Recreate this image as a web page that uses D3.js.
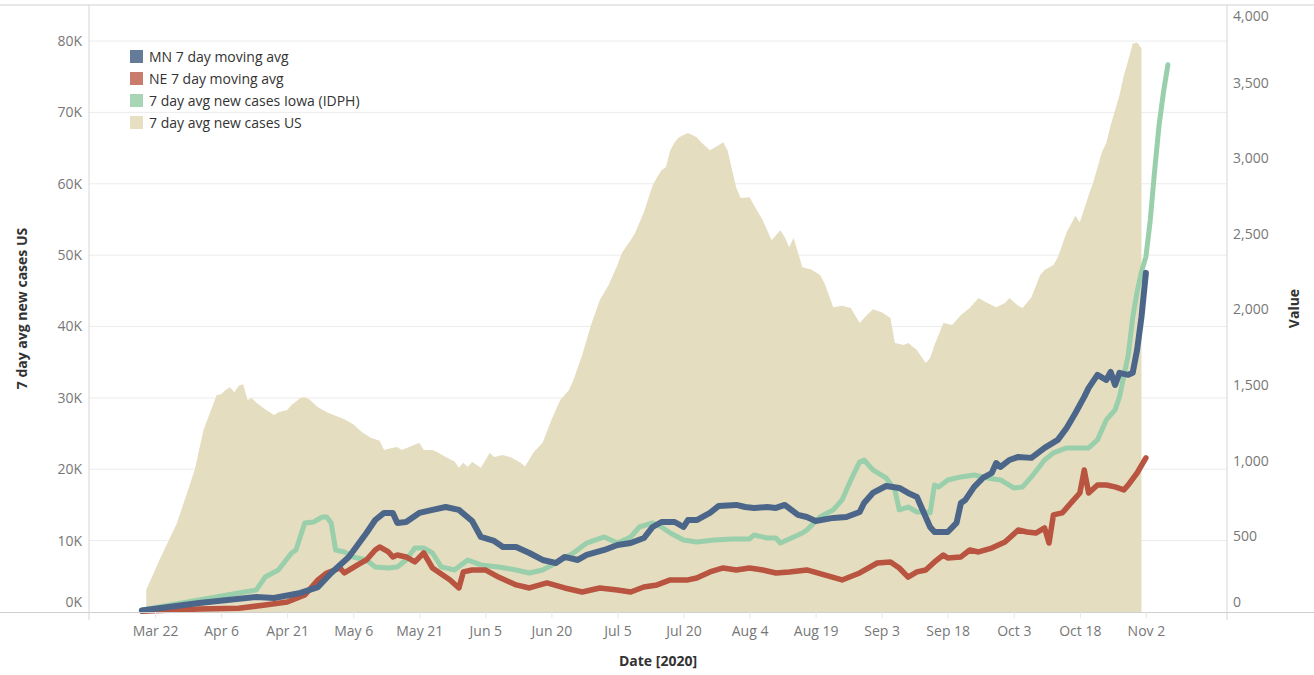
<!DOCTYPE html>
<html>
<head>
<meta charset="utf-8">
<script src="https://cdn.jsdelivr.net/npm/d3@7"></script>
<style>
  body { margin: 0; background: #fff; }
  text { font-family: "Open Sans", sans-serif; }
</style>
</head>
<body>
<script>
// US 7 day avg (left axis)
const usDates = ["03-20","03-23","03-27","03-31","04-02","04-05","04-06","04-07","04-08","04-09","04-10","04-11","04-12","04-13","04-14","04-16","04-18","04-19","04-21","04-22","04-24","04-25","04-26","04-28","04-30","05-02","05-04","05-06","05-08","05-10","05-12","05-13","05-15","05-16","05-17","05-19","05-21","05-22","05-24","05-25","05-27","05-29","05-30","05-31","06-01","06-02","06-04","06-06","06-07","06-09","06-11","06-13","06-14","06-16","06-18","06-20","06-22","06-24","06-25","06-27","06-29","07-01","07-03","07-05","07-06","07-08","07-09","07-11","07-13","07-14","07-15","07-16","07-17","07-18","07-19","07-21","07-23","07-24","07-26","07-28","07-29","07-30","08-01","08-02","08-04","08-05","08-07","08-09","08-11","08-12","08-13","08-14","08-16","08-18","08-20","08-21","08-23","08-25","08-27","08-29","08-30","09-01","09-03","09-05","09-06","09-08","09-09","09-11","09-13","09-14","09-15","09-17","09-19","09-21","09-23","09-25","09-27","09-29","10-01","10-02","10-04","10-05","10-07","10-09","10-10","10-12","10-13","10-15","10-17","10-18","10-20","10-21","10-23","10-24","10-25","10-26","10-27","10-28","10-29","10-30","10-31","11-01"];
const usValues = [3100,7300,12500,19900,25500,30400,30500,31100,31500,30800,31700,31900,29700,30000,29300,28400,27600,28000,28300,29000,30000,30100,29800,28700,28000,27500,27000,26300,25200,24400,24000,22700,23000,23100,22700,23200,23700,22700,22700,22400,21700,21100,20200,20900,20300,21000,20200,22300,21700,22000,21600,20900,20400,22400,23700,26900,29700,31100,32500,36000,40200,43700,45800,48600,50300,52100,53100,56000,59800,60900,61900,62300,64700,65800,66500,67100,66500,65800,64700,65400,65800,64700,59400,58000,58100,57000,54900,52100,53500,52500,51100,52400,48300,48000,47200,46100,42700,42900,42600,40500,41200,42400,42000,41200,37700,37400,37700,36700,34900,35600,37400,40500,40200,41600,42600,44000,43300,42700,43300,44000,42900,42600,44100,47200,47900,48600,49700,53200,55500,54600,58400,60100,64400,65700,68200,70300,72400,75200,77300,79600,79800,79000];

// MN 7 day moving avg (right axis)
const mnDates = ["03-19","04-01","04-14","04-18","04-24","04-28","05-01","05-05","05-09","05-11","05-13","05-15","05-16","05-18","05-21","05-24","05-27","05-30","06-02","06-04","06-07","06-09","06-12","06-15","06-18","06-21","06-23","06-26","06-28","07-02","07-05","07-08","07-11","07-13","07-15","07-18","07-20","07-21","07-23","07-26","07-28","08-01","08-03","08-05","08-08","08-10","08-12","08-15","08-17","08-19","08-23","08-26","08-29","08-30","09-01","09-04","09-07","09-09","09-11","09-12","09-14","09-15","09-18","09-20","09-21","09-22","09-24","09-26","09-28","09-29","09-30","10-02","10-04","10-07","10-10","10-13","10-15","10-17","10-19","10-20","10-22","10-24","10-25","10-26","10-27","10-29","10-30","10-31","11-01","11-02"];
const mnValues = [10,60,99,93,126,165,258,364,522,608,655,655,589,595,655,675,694,675,602,496,470,430,430,390,344,324,364,344,377,410,443,456,489,562,595,595,562,608,608,655,701,708,694,688,694,688,708,642,628,602,622,628,661,721,787,833,820,787,761,694,562,529,529,589,721,741,827,886,919,985,959,1005,1025,1019,1085,1138,1217,1316,1422,1482,1568,1534,1587,1501,1581,1568,1581,1733,1951,2242];

// NE 7 day moving avg (right axis)
const neDates = ["03-19","04-01","04-10","04-16","04-21","04-25","04-28","04-30","05-03","05-04","05-07","05-09","05-11","05-12","05-14","05-15","05-16","05-18","05-20","05-22","05-24","05-28","05-30","05-31","06-02","06-05","06-08","06-12","06-15","06-19","06-23","06-27","07-01","07-05","07-08","07-11","07-14","07-17","07-21","07-23","07-26","07-29","08-01","08-04","08-07","08-10","08-13","08-17","08-21","08-25","08-29","09-02","09-05","09-07","09-09","09-11","09-13","09-15","09-17","09-18","09-21","09-23","09-25","09-28","10-01","10-04","10-06","10-08","10-10","10-11","10-12","10-14","10-16","10-18","10-19","10-20","10-22","10-24","10-26","10-28","10-29","10-31","11-02"];
const neValues = [5,20,25,46,66,112,212,258,291,258,311,344,410,430,397,364,377,364,331,390,291,212,159,265,278,278,231,179,159,192,159,132,159,146,132,165,179,212,212,225,265,291,278,291,278,258,265,278,245,212,258,324,331,291,231,265,278,331,377,357,364,410,397,423,463,542,529,522,556,456,642,655,721,787,939,787,840,840,827,807,840,919,1019];

// 7 day avg new cases Iowa (IDPH) (right axis)
const iaDates = ["03-19","04-01","04-10","04-14","04-16","04-19","04-22","04-23","04-25","04-27","04-29","04-30","05-01","05-02","05-04","05-06","05-09","05-11","05-14","05-16","05-18","05-20","05-22","05-24","05-26","05-29","06-01","06-04","06-08","06-12","06-15","06-18","06-21","06-25","06-28","07-02","07-05","07-08","07-10","07-13","07-15","07-17","07-20","07-23","07-27","07-31","08-04","08-05","08-08","08-10","08-11","08-14","08-16","08-17","08-20","08-23","08-25","08-27","08-29","08-30","09-01","09-04","09-06","09-07","09-09","09-11","09-13","09-14","09-15","09-16","09-18","09-21","09-24","09-27","09-30","10-03","10-05","10-07","10-10","10-12","10-15","10-20","10-22","10-24","10-26","10-27","10-29","10-30","10-31","11-01","11-02","11-03","11-04","11-05","11-06","11-07"];
const iaValues = [13,79,126,146,231,278,390,410,589,595,628,628,589,410,397,364,344,298,291,298,344,423,423,390,298,278,344,311,298,278,258,278,324,390,456,496,456,496,562,589,562,522,476,463,476,483,483,509,489,489,456,496,522,542,628,675,741,873,992,1005,939,886,807,675,694,661,661,655,840,827,873,893,906,886,873,820,827,893,1005,1052,1085,1085,1138,1270,1336,1422,1700,1945,2116,2249,2348,2593,2923,3221,3439,3618];

const xTicks = ["03-22","04-06","04-21","05-06","05-21","06-05","06-20","07-05","07-20","08-04","08-19","09-03","09-18","10-03","10-18","11-02"];
const leftTicks = [0,10000,20000,30000,40000,50000,60000,70000,80000];
const rightTicks = [0,500,1000,1500,2000,2500,3000,3500,4000];

const legendLabels = ["MN 7 day moving avg","NE 7 day moving avg","7 day avg new cases Iowa (IDPH)","7 day avg new cases US"];
const legendColors = ["#657c98","#c97c6b","#a6d6b4","#e6dfc1"];

const W = 1314, H = 675;
const plotL = 89, plotR = 1227, plotT = 5, plotB = 612;

const parse = s => d3.utcParse("%Y-%m-%d")("2020-" + s);
const zip = (ds, vs) => ds.map((d, i) => ({ date: parse(d), value: vs[i] }));

const svg = d3.select("body").append("svg")
    .attr("width", W)
    .attr("height", H);

const x = d3.scaleUtc()
    .domain([parse("03-07"), new Date(Date.UTC(2020, 10, 20, 10))])
    .range([plotL, plotR]);
const yLeft = d3.scaleLinear().domain([0, 85044]).range([plotB, plotT]);
const yRight = d3.scaleLinear().domain([0, 4013]).range([plotB, plotT]);

// gridlines
svg.append("g").selectAll("line")
    .data(leftTicks.filter(d => d > 0))
    .join("line")
    .attr("x1", plotL).attr("x2", plotR)
    .attr("y1", d => yLeft(d)).attr("y2", d => yLeft(d))
    .attr("stroke", "#ececec");

// US area
const area = d3.area()
    .x(d => x(d.date))
    .y0(yLeft(0))
    .y1(d => yLeft(d.value));
svg.append("path")
    .datum(zip(usDates, usValues))
    .attr("d", area)
    .attr("fill", "#e4ddc0");

// lines on right axis
const line = d3.line()
    .x(d => x(d.date))
    .y(d => yRight(d.value));

const series = [
    { d: iaDates, v: iaValues, color: "#9acfab", w: 5 },
    { d: neDates, v: neValues, color: "#b8543f", w: 5.5 },
    { d: mnDates, v: mnValues, color: "#4b6689", w: 6 }
];
series.forEach(s => {
    svg.append("path")
        .datum(zip(s.d, s.v))
        .attr("d", line)
        .attr("fill", "none")
        .attr("stroke", s.color)
        .attr("stroke-width", s.w)
        .attr("stroke-linejoin", "round")
        .attr("stroke-linecap", "round");
});

// frame lines
svg.append("line").attr("x1", 0).attr("x2", W).attr("y1", plotT).attr("y2", plotT).attr("stroke", "#cfcfcf");
svg.append("line").attr("x1", 0).attr("x2", W).attr("y1", plotB + 0.5).attr("y2", plotB + 0.5).attr("stroke", "#cfcfcf");
svg.append("line").attr("x1", plotL).attr("x2", plotL).attr("y1", plotT).attr("y2", 620).attr("stroke", "#d6d6d6");
svg.append("line").attr("x1", plotR).attr("x2", plotR).attr("y1", plotT).attr("y2", 620).attr("stroke", "#d6d6d6");

// left axis
const gL = svg.append("g")
    .attr("transform", `translate(${plotL},0)`)
    .call(d3.axisLeft(yLeft).tickValues(leftTicks).tickSize(0).tickPadding(7)
        .tickFormat(d => d / 1000 + "K"));
gL.select(".domain").remove();
gL.selectAll("text")
    .attr("font-size", 14).attr("fill", "#777")
    .attr("dy", d => d === 0 ? "-0.4em" : "0.32em");

// right axis
const gR = svg.append("g")
    .attr("transform", `translate(${plotR},0)`)
    .call(d3.axisRight(yRight).tickValues(rightTicks).tickSize(0).tickPadding(6)
        .tickFormat(d3.format(",")));
gR.select(".domain").remove();
gR.selectAll("text")
    .attr("font-size", 14).attr("fill", "#777")
    .attr("dy", d => d === 0 ? "-0.4em" : d === 4000 ? "1.0em" : "0.32em");

// x axis
const gX = svg.append("g")
    .attr("transform", `translate(0,${plotB})`)
    .call(d3.axisBottom(x).tickValues(xTicks.map(parse)).tickSize(6).tickPadding(8)
        .tickFormat(d3.utcFormat("%b %-d")));
gX.select(".domain").remove();
gX.selectAll("line").attr("stroke", "#e6e6e6");
gX.selectAll("text").attr("font-size", 14).attr("fill", "#777");

// axis titles
svg.append("text")
    .attr("transform", `translate(27,${(plotT + plotB) / 2}) rotate(-90)`)
    .attr("text-anchor", "middle")
    .attr("font-size", 14).attr("font-weight", "bold").attr("fill", "#333")
    .text("7 day avg new cases US");
svg.append("text")
    .attr("transform", `translate(1299,${(plotT + plotB) / 2}) rotate(-90)`)
    .attr("text-anchor", "middle")
    .attr("font-size", 14).attr("font-weight", "bold").attr("fill", "#333")
    .text("Value");
svg.append("text")
    .attr("x", (plotL + plotR) / 2).attr("y", 666)
    .attr("text-anchor", "middle")
    .attr("font-size", 14).attr("font-weight", "bold").attr("fill", "#333")
    .text("Date [2020]");

// legend
const lg = svg.append("g").attr("transform", "translate(130,50)");
const rows = lg.selectAll("g").data(legendLabels).join("g")
    .attr("transform", (d, i) => `translate(0,${i * 22})`);
rows.append("rect")
    .attr("width", 13).attr("height", 13)
    .attr("fill", (d, i) => legendColors[i]);
rows.append("text")
    .attr("x", 19).attr("y", 7).attr("dy", "0.35em")
    .attr("font-size", 14).attr("fill", "#333")
    .text(d => d);
</script>
</body>
</html>
